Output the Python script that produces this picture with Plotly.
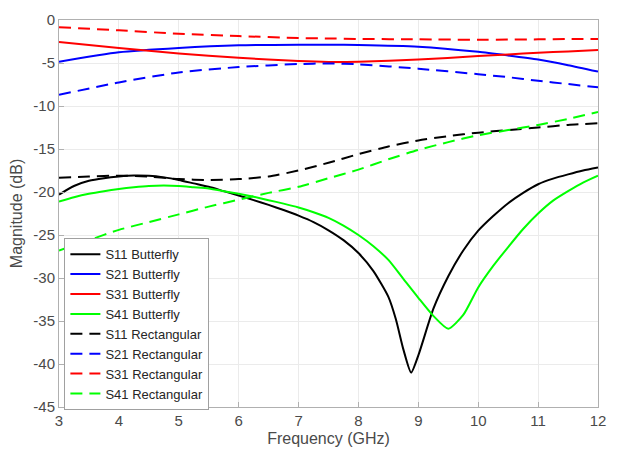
import plotly.graph_objects as go

# ---- data ----
f_s11b = [3.0, 3.25, 3.5, 3.75, 4.0, 4.25, 4.5, 4.75, 5.0, 5.25, 5.5, 5.75, 6.0, 6.25, 6.5, 6.75, 7.0, 7.25, 7.5, 7.75, 8.0, 8.25, 8.5, 8.625, 8.75, 8.88, 9.0, 9.25, 9.5, 9.75, 10.0, 10.25, 10.5, 10.75, 11.0, 11.25, 11.5, 11.75, 12.0]
s11_butterfly = [-20.3, -19.3, -18.7, -18.4, -18.2, -18.08, -18.12, -18.3, -18.6, -19.0, -19.4, -19.9, -20.4, -20.95, -21.5, -22.1, -22.75, -23.5, -24.45, -25.6, -27.1, -29.2, -32.2, -34.8, -38.3, -41.0, -39.0, -33.6, -29.8, -26.8, -24.5, -22.8, -21.3, -20.1, -19.1, -18.45, -17.95, -17.5, -17.15]

f_s41b = [3.0, 3.25, 3.5, 3.75, 4.0, 4.25, 4.5, 4.75, 5.0, 5.25, 5.5, 5.75, 6.0, 6.25, 6.5, 6.75, 7.0, 7.25, 7.5, 7.75, 8.0, 8.25, 8.5, 8.75, 9.0, 9.25, 9.5, 9.75, 10.0, 10.25, 10.5, 10.75, 11.0, 11.25, 11.5, 11.75, 12.0]
s41_butterfly = [-21.1, -20.6, -20.2, -19.9, -19.65, -19.45, -19.3, -19.25, -19.3, -19.45, -19.6, -19.9, -20.2, -20.55, -20.95, -21.35, -21.8, -22.35, -23.0, -23.9, -25.0, -26.3, -27.9, -30.1, -32.3, -34.4, -35.9, -34.3, -31.1, -28.6, -26.4, -24.3, -22.5, -21.0, -19.9, -18.9, -18.1]

f_main = [3, 4, 5, 6, 7, 7.5, 8, 9, 10, 10.5, 11, 11.5, 12]
s21_butterfly = [-4.85, -3.75, -3.25, -2.94, -2.87, -2.87, -2.9, -3.1, -3.7, -4.13, -4.6, -5.25, -6.0]
s31_butterfly = [-2.56, -3.25, -3.9, -4.4, -4.78, -4.88, -4.85, -4.6, -4.2, -4.0, -3.8, -3.65, -3.5]
s21_rect = [-8.7, -7.26, -6.1, -5.47, -5.12, -5.05, -5.15, -5.66, -6.3, -6.65, -7.07, -7.45, -7.83]
s31_rect = [-0.84, -1.2, -1.6, -1.87, -2.1, -2.15, -2.2, -2.25, -2.3, -2.28, -2.25, -2.22, -2.2]

f_half = [3, 3.5, 4, 4.5, 5, 5.5, 6, 6.5, 7, 7.5, 8, 8.5, 9, 9.5, 10, 10.5, 11, 11.5, 12]
s11_rect = [-18.35, -18.2, -18.1, -18.2, -18.5, -18.6, -18.5, -18.2, -17.5, -16.6, -15.6, -14.7, -14.0, -13.5, -13.1, -12.8, -12.5, -12.2, -12.0]
s41_rect = [-26.8, -25.6, -24.4, -23.5, -22.6, -21.7, -20.9, -20.1, -19.4, -18.4, -17.4, -16.2, -15.1, -14.2, -13.4, -12.8, -12.2, -11.5, -10.7]

x_ticks = [3, 4, 5, 6, 7, 8, 9, 10, 11, 12]
y_ticks = [0, -5, -10, -15, -20, -25, -30, -35, -40, -45]

series = [
    ("S11 Butterfly", f_s11b, s11_butterfly, "#000000", "solid"),
    ("S21 Butterfly", f_main, s21_butterfly, "#0000ff", "solid"),
    ("S31 Butterfly", f_main, s31_butterfly, "#ff0000", "solid"),
    ("S41 Butterfly", f_s41b, s41_butterfly, "#00ff00", "solid"),
    ("S11 Rectangular", f_half, s11_rect, "#000000", "12px,7px"),
    ("S21 Rectangular", f_main, s21_rect, "#0000ff", "12px,7px"),
    ("S31 Rectangular", f_main, s31_rect, "#ff0000", "12px,7px"),
    ("S41 Rectangular", f_half, s41_rect, "#00ff00", "12px,7px"),
]

fig = go.Figure()
for name, xs, ys, col, dash in series:
    fig.add_trace(go.Scatter(
        x=xs, y=ys, mode="lines", name=name,
        line=dict(color=col, width=2, dash=dash, shape="spline", smoothing=0.6),
    ))

font_family = "Liberation Sans, Arial, sans-serif"
axis_common = dict(
    showgrid=True, gridcolor="#ebebeb", gridwidth=1,
    showline=True, linecolor="#b0b0b0", linewidth=1, mirror=True,
    ticks="inside", ticklen=5, tickcolor="#b0b0b0",
    zeroline=False,
    tickfont=dict(family=font_family, size=15, color="#4a4a4a"),
)

fig.update_layout(
    width=617, height=455,
    margin=dict(l=59, r=11, t=15, b=48),
    paper_bgcolor="white", plot_bgcolor="white",
    font=dict(family=font_family, color="#4a4a4a"),
    xaxis=dict(range=[3, 12], tickvals=x_ticks, ticktext=[str(v) for v in x_ticks],
               title=dict(text="Frequency (GHz)", font=dict(size=16, family=font_family, color="#4a4a4a"), standoff=4),
               **axis_common),
    yaxis=dict(range=[-45, 0], tickvals=y_ticks, ticktext=[str(v) for v in y_ticks],
               title=dict(text="Magnitude (dB)", font=dict(size=16, family=font_family, color="#4a4a4a"), standoff=6),
               **axis_common),
    legend=dict(
        x=0.01, y=0.436, xanchor="left", yanchor="top",
        bgcolor="white", bordercolor="#a0a0a0", borderwidth=1,
        font=dict(family=font_family, size=13, color="#262626"),
        tracegroupgap=0, itemwidth=30,
    ),
    showlegend=True,
)

fig.write_html("out.html")
